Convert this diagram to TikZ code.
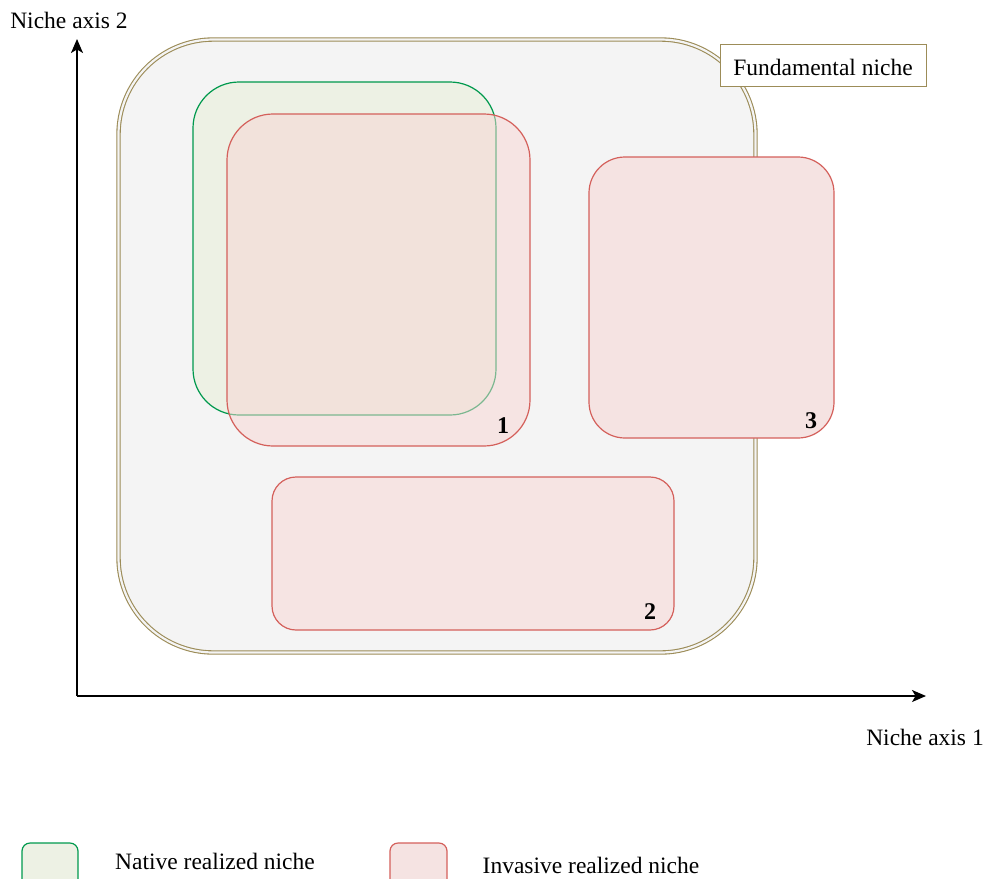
\documentclass[tikz,border=0pt]{standalone}
\usepackage{fontspec}
\setmainfont{Liberation Serif}
\usetikzlibrary{arrows.meta}
\definecolor{olive}{HTML}{9C8C58}
\definecolor{fundfill}{HTML}{F4F4F4}
\definecolor{grstroke}{HTML}{00994D}
\definecolor{grfill}{HTML}{EDF1E4}
\definecolor{rdstroke}{HTML}{D4605B}
\definecolor{rdfill}{HTML}{F8D5D3}
\definecolor{rdsolid}{HTML}{F5E3E2}
\begin{document}
\begin{tikzpicture}[x=1pt,y=-1pt,
  txt/.style={font=\fontsize{23.5}{27}\selectfont, inner sep=0pt},
  numlbl/.style={font=\fontsize{24}{27}\selectfont\bfseries, inner sep=0pt},
  niche/.style={rectangle, inner sep=0pt, line width=1.2pt},
  greenbox/.style={niche, draw=grstroke, fill=grfill},
  redbox/.style={niche, draw=rdstroke, fill=rdfill, fill opacity=0.5, draw opacity=1},
  redsolid/.style={niche, draw=rdstroke, fill=rdsolid},
  axis/.style={line width=1.4pt, -{Stealth[length=14pt,width=12pt,inset=3.5pt]}}
]
\useasboundingbox (0,0) rectangle (987,878);
% fundamental niche
\node[rectangle, inner sep=0pt, draw=olive, double=fundfill, double distance=2.2pt, line width=1.1pt, fill=fundfill,
  rounded corners=95pt, minimum width=637pt, minimum height=613pt] (fund) at (437,346) {};
% native realized niche
\node[greenbox, rounded corners=46pt, minimum width=303pt, minimum height=333pt] (native) at (344.5,248.5) {};
% invasive 1
\node[redbox, rounded corners=46pt, minimum width=303pt, minimum height=332pt] (inv1) at (378.5,280) {};
% invasive 2
\node[redbox, rounded corners=24pt, minimum width=402pt, minimum height=153pt] (inv2) at (473,553.5) {};
% invasive 3
\node[redsolid, rounded corners=36pt, minimum width=245pt, minimum height=281pt] (inv3) at (711.5,297.5) {};
% label box
\node[rectangle, draw=olive, fill=white, line width=1pt, minimum width=206pt, minimum height=42pt, inner sep=0pt] (fundlbl) at (823,65) {};
\node[txt] (fundtxt) at (823,67) {Fundamental niche};
% numbers
\node[numlbl] (n1) at (503,426) {1};
\node[numlbl] (n2) at (650,612) {2};
\node[numlbl] (n3) at (811,421) {3};
% axes
\coordinate (origin) at (77,696);
\coordinate (ytip) at (77,39);
\coordinate (xtip) at (926,696);
\draw[axis] (origin) -- (ytip);
\draw[axis] (origin) -- (xtip);
\node[txt] (yl) at (69,20) {Niche axis 2};
\node[txt] (xl) at (925,737) {Niche axis 1};
% legend
\node[greenbox, rounded corners=8pt, minimum width=56pt, minimum height=46pt] (lg1) at (50,866) {};
\node[redsolid, rounded corners=8pt, minimum width=57pt, minimum height=46pt] (lg2) at (418.5,866) {};
\node[txt] (lt1) at (215,861) {Native realized niche};
\node[txt] (lt2) at (591,865) {Invasive realized niche};
\end{tikzpicture}
\end{document}
